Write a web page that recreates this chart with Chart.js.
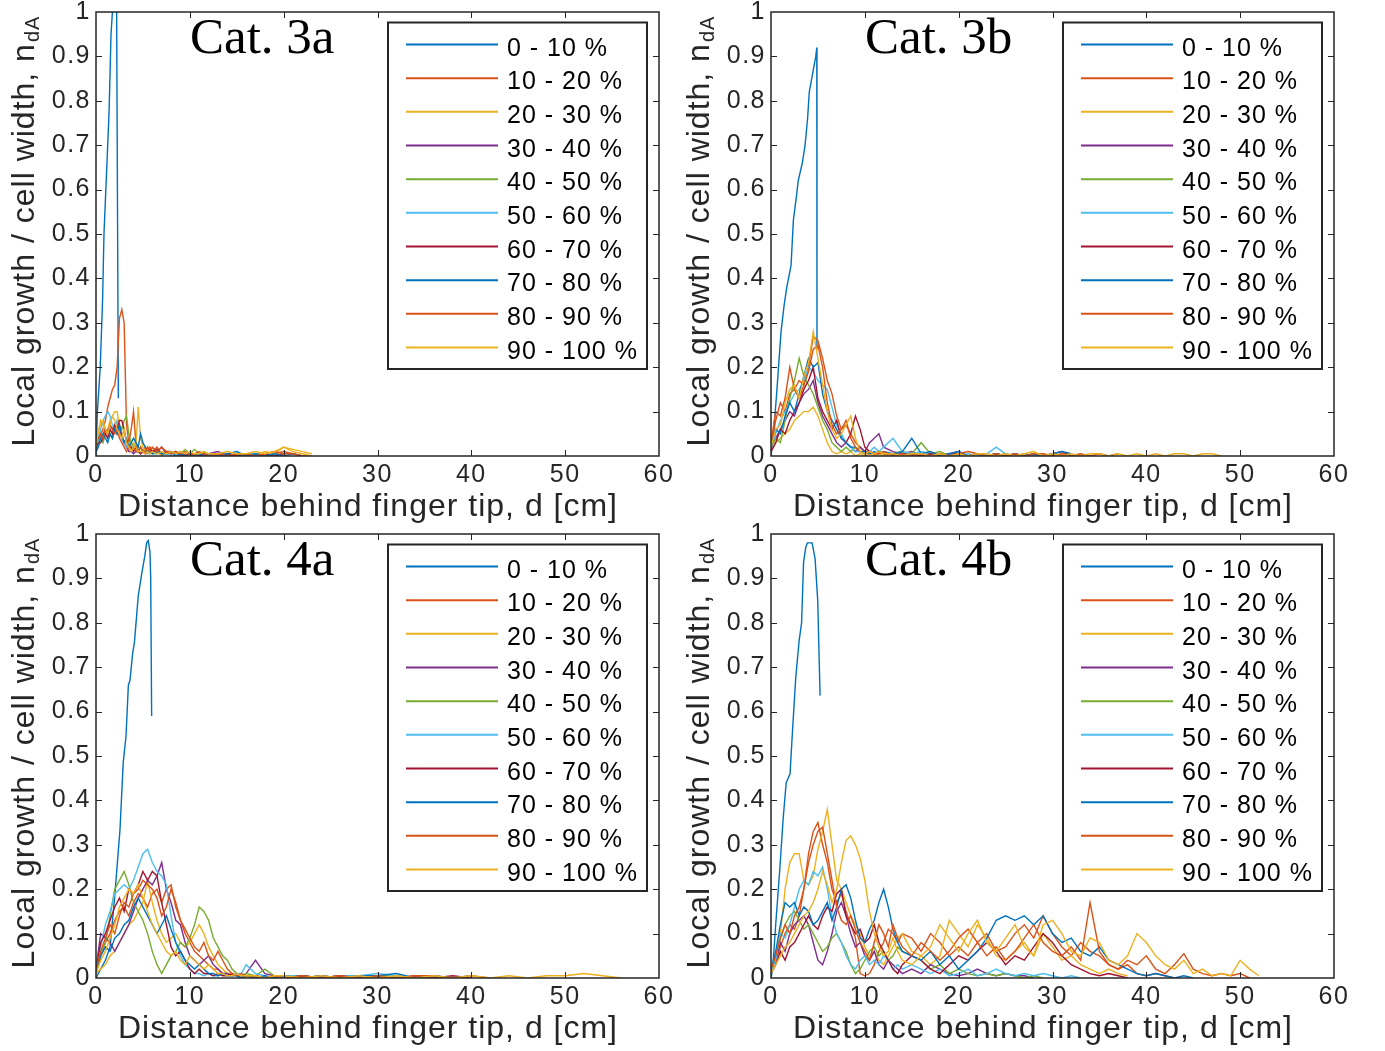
<!DOCTYPE html>
<html>
<head>
<meta charset="utf-8">
<script src="https://cdn.jsdelivr.net/npm/chart.js@4.4.1/dist/chart.umd.min.js"></script>
<style>
  body { margin: 0; background: #fff; width: 1385px; height: 1051px; overflow: hidden; }
  .panel { position: absolute; width: 692px; height: 525px; }
  .panel canvas { display: block; }
</style>
</head>
<body>
<div class="panel" style="left:0;top:0"><canvas id="c3a" width="692" height="525"></canvas></div>
<div class="panel" style="left:675px;top:0"><canvas id="c3b" width="692" height="525"></canvas></div>
<div class="panel" style="left:0;top:522px"><canvas id="c4a" width="692" height="525"></canvas></div>
<div class="panel" style="left:675px;top:522px"><canvas id="c4b" width="692" height="525"></canvas></div>
<script>
// legend entries and MATLAB default line colours
const RANGES = ['0 - 10 %', '10 - 20 %', '20 - 30 %', '30 - 40 %', '40 - 50 %',
                '50 - 60 %', '60 - 70 %', '70 - 80 %', '80 - 90 %', '90 - 100 %'];
const COLORS = ['#0072BD', '#D95319', '#EDB120', '#7E2F8E', '#77AC30',
                '#4DBEEE', '#A2142F', '#0072BD', '#D95319', '#EDB120'];
const X_TICKS = [0, 10, 20, 30, 40, 50, 60];
const X_TITLE = 'Distance behind finger tip, d [cm]';
const Y_TITLE = 'Local growth / cell width, n';
const Y_SUB = 'dA';

// ---- Cat. 3a ----
const x3a = [0,0.25,0.5,0.75,1,1.25,1.5,1.75,2,2.25,2.5,2.75,3,3.25,3.5,3.75,4,4.25,4.5,4.75,5,5.25,5.5,5.75,6,
  6.5,7,7.5,8,8.5,9,9.5,10,10.5,11,11.5,12,13,14,15,16,17,18,19,20,21,22,23];
const c3a_0x = [0,0.15,0.45,0.7,0.85,1.15,1.4,1.6,1.75,1.9,2.05,2.2,2.38];
const c3a_0y = [0,0.1,0.2,0.35,0.5,0.65,0.78,0.95,1,1.02,1.02,1,0.13];
const c3a_1 = [0.02,0.03,0.05,0.06,0.08,0.11,0.13,0.15,0.16,0.2,0.31,0.33,0.3,0.07,0.03,0.06,0.1,0.03,0.01,0.02,0.01,0.02,0.01,0.02,0.01,
  0.02,0.005,0.01,0.01,0.005,0.01,0,0.005,0.005,0,0.005,0, 0.005,0,0.005,0,0.005,0,0.005,0.01,0.005,0,0];
const c3a_2 = [0.01,0.05,0.08,0.07,0.05,0.06,0.08,0.09,0.1,0.1,0.07,0.04,0.03,0.02,0.03,0.02,0.03,0.02,0.11,0.04,0.02,0.01,0.02,0.01,0.01,
  0.01,0,0.01,0.005,0.01,0,0.005,0,0.005,0,0.01,0.005, 0,0.005,0,0.005,0,0.01,0.005,0.02,0.01,0.005,0];
const c3a_3 = [0.01,0.03,0.04,0.05,0.06,0.05,0.07,0.06,0.07,0.05,0.06,0.04,0.03,0.02,0.01,0.01,0.005,0.01,0.01,0.005,0.01,0.005,0.01,0.005,0.01,
  0.01,0.02,0.005,0.01,0.005,0.01,0,0.005,0,0.005,0,0.005, 0.01,0,0.005,0,0.005,0];
const c3a_4 = [0.02,0.03,0.04,0.03,0.05,0.06,0.05,0.04,0.06,0.05,0.07,0.06,0.08,0.09,0.05,0.03,0.02,0.02,0.01,0.02,0.01,0.01,0.005,0.01,0.005,
  0.01,0.005,0.01,0.005,0.01,0.005,0.015,0.005,0.015,0.005,0.01,0, 0.005,0,0.005,0,0.005];
const c3a_5 = [0.01,0.04,0.06,0.08,0.09,0.1,0.09,0.07,0.06,0.08,0.05,0.04,0.03,0.02,0.02,0.01,0.02,0.01,0.01,0.005,0.01,0.01,0.005,0.01,0.005,
  0.005,0.01,0.005,0,0.005,0.01,0,0.005,0,0.005,0,0.005, 0,0.005,0,0.005,0.005,0];
const c3a_6 = [0.02,0.03,0.03,0.04,0.05,0.04,0.06,0.05,0.07,0.06,0.08,0.08,0.06,0.03,0.02,0.02,0.01,0.02,0.01,0.005,0.01,0.005,0.01,0.015,0.01,
  0.015,0.005,0.01,0.005,0.01,0,0.005,0,0.005,0,0.005,0, 0,0.005,0,0.005,0,0.005,0,0.005];
const c3a_7 = [0.01,0.02,0.04,0.05,0.04,0.03,0.05,0.04,0.06,0.05,0.07,0.05,0.03,0.04,0.02,0.03,0.04,0.03,0.02,0.05,0.03,0.02,0.01,0.01,0.005,
  0.01,0.005,0.005,0.01,0,0.005,0,0.005,0,0.005,0,0.005, 0,0.005,0.01,0,0.005,0,0.005,0,0.005,0];
const c3a_8 = [0.03,0.04,0.05,0.04,0.06,0.05,0.07,0.06,0.05,0.06,0.04,0.03,0.02,0.01,0.02,0.01,0.02,0.01,0.01,0.02,0.01,0.01,0.02,0.01,0.02,
  0.01,0.02,0.01,0.005,0.01,0.005,0.01,0,0.005,0.01,0.005,0, 0.005,0,0.005,0.005,0,0.005,0.01,0.005,0.005,0];
const c3a_9 = [0.02,0.06,0.07,0.08,0.06,0.05,0.07,0.09,0.08,0.06,0.05,0.04,0.06,0.03,0.02,0.01,0.02,0.02,0.01,0.01,0.01,0.005,0.01,0.005,0.01,
  0.005,0.01,0.005,0.01,0.005,0.01,0.005,0.01,0.005,0.005,0.01,0.005, 0.005,0.01,0.005,0.005,0.01,0.005,0.01,0.02,0.015,0.01,0.005];

// ---- Cat. 3b ----
const x3b = [0,0.5,1,1.5,2,2.5,3,3.5,4,4.5,5,5.5,6,6.5,7,7.5,8,8.5,9,9.5,10,10.5,11,11.5,12,
  13,14,15,16,17,18,19,20,21,22,23,24,25,26,27,28,29,30,31,32,33,34,35,36,37,38,39,40,41,42,43,44,45,46,47,48];
const c3b_0x = [0,0.3,0.6,1.07,1.4,1.68,2.14,2.38,2.74,2.9,3.34,3.63,3.9,4.08,4.34,4.77,4.88,4.9];
const c3b_0y = [0,0.06,0.14,0.28,0.34,0.38,0.43,0.53,0.59,0.62,0.66,0.7,0.76,0.82,0.85,0.9,0.92,0.24];
const c3b_1 = [0.02,0.08,0.12,0.1,0.14,0.15,0.17,0.16,0.2,0.27,0.26,0.22,0.17,0.14,0.09,0.06,0.07,0.05,0.03,0.02,0.01,0.01,0.005,0.01,0.005,
  0.005,0.01,0,0.005,0,0.005,0,0.005,0,0.005,0,0,0.005,0,0.005,0];
const c3b_2 = [0.01,0.03,0.04,0.05,0.06,0.08,0.09,0.1,0.1,0.11,0.09,0.06,0.03,0.01,0.005,0.01,0.005,0.01,0,0.005,0,0.005,0,0.005,0,
  0.005,0,0.005,0,0.005,0,0,0.005,0,0.005,0,0.005,0,0,0.005,0,0.005,0,0.005,0,0.005];
const c3b_3 = [0.02,0.04,0.06,0.08,0.1,0.09,0.12,0.14,0.15,0.17,0.12,0.09,0.07,0.05,0.03,0.02,0.03,0.02,0.01,0.02,0.01,0.03,0.04,0.05,0.02,
  0.01,0.005,0.01,0,0.005,0,0.005,0.01,0,0.005,0,0.005,0];
const c3b_4 = [0.02,0.04,0.03,0.08,0.13,0.17,0.22,0.18,0.16,0.14,0.11,0.08,0.06,0.03,0.02,0.01,0.02,0.01,0.02,0.01,0.005,0.01,0.005,0.01,0.005,
  0.005,0.01,0.005,0.03,0.005,0.01,0,0.005,0,0.005,0,0.005];
const c3b_5 = [0.02,0.05,0.08,0.1,0.12,0.14,0.15,0.17,0.2,0.19,0.17,0.16,0.15,0.11,0.07,0.05,0.03,0.02,0.01,0.01,0.005,0.01,0.02,0.01,0.02,
  0.04,0.01,0.005,0.01,0.005,0,0.005,0,0.005,0,0.005,0.02,0.005,0,0.005,0,0.005];
const c3b_6 = [0.01,0.03,0.06,0.05,0.08,0.1,0.12,0.15,0.17,0.2,0.13,0.1,0.08,0.06,0.08,0.04,0.03,0.05,0.09,0.06,0.02,0.01,0.005,0.01,0.005,
  0.005,0,0.005,0,0.005,0,0.005,0.005,0,0.005,0,0.005,0,0.005,0,0.005,0,0.005,0.01,0];
const c3b_7 = [0.02,0.06,0.05,0.09,0.12,0.1,0.14,0.18,0.22,0.2,0.21,0.14,0.1,0.08,0.06,0.04,0.03,0.02,0.02,0.01,0.01,0.005,0.01,0.005,0.01,
  0.005,0.01,0.04,0.005,0.01,0,0.005,0.01,0,0.005,0,0.005,0,0.005,0,0.005,0,0.005,0.01,0.005];
const c3b_8 = [0.03,0.1,0.09,0.13,0.2,0.15,0.13,0.16,0.19,0.24,0.25,0.2,0.12,0.07,0.05,0.06,0.08,0.04,0.02,0.01,0.005,0.01,0.005,0.005,0.01,
  0,0.005,0,0.005,0,0.005,0,0.005,0.01,0.005,0,0.005,0,0.005,0,0.005,0.005,0,0.005,0,0.005,0,0.005,0,0.005];
const c3b_9 = [0.02,0.06,0.07,0.12,0.15,0.16,0.13,0.18,0.21,0.28,0.22,0.16,0.1,0.06,0.04,0.05,0.07,0.09,0.04,0.01,0.005,0.01,0.005,0.01,0.005,
  0.005,0,0.005,0.005,0,0.005,0,0.005,0,0.005,0.005,0,0.005,0,0.005,0.01,0,0.005,0,0.005,0,0.005,0.005,0,0.005,0,0.005,0,0.005,0,0.005,0.005,0,0.005,0.005,0];

// ---- Cat. 4a ----
const x4a = [0,0.5,1,1.5,2,2.5,3,3.5,4,4.5,5,5.5,6,6.5,7,7.5,8,8.5,9,9.5,10,10.5,11,11.5,12,12.5,13,13.5,14,14.5,15,15.5,16,
  17,18,19,20,22,24,26,28,30,32,34,36,38,40,42,44,46,48,50,52,54,56];
const c4a_0x = [0,0.5,1,1.5,2,2.56,2.9,3.2,3.45,3.62,3.9,4.1,4.5,4.87,5.2,5.4,5.57,5.75,5.83,5.93];
const c4a_0y = [0,0.02,0.04,0.07,0.185,0.335,0.485,0.545,0.66,0.67,0.73,0.757,0.86,0.91,0.95,0.98,0.985,0.96,0.9,0.59];
const c4a_1 = [0.01,0.05,0.08,0.1,0.13,0.15,0.16,0.14,0.17,0.19,0.18,0.16,0.19,0.2,0.17,0.2,0.21,0.16,0.13,0.1,0.08,0.06,0.05,0.04,0.03,0.02,0.02,0.01,0.01,0.005,0.01,0.005,0.005,
  0.005,0,0.005,0, 0.005,0,0.005,0];
const c4a_2 = [0.01,0.02,0.03,0.05,0.06,0.08,0.1,0.12,0.13,0.15,0.17,0.22,0.17,0.13,0.1,0.08,0.09,0.1,0.08,0.07,0.08,0.1,0.12,0.1,0.07,0.05,0.03,0.02,0.01,0.01,0.005,0.005,0,
  0.005,0,0.005,0.005, 0,0.005,0,0.005,0,0.005,0];
const c4a_3 = [0.02,0.1,0.09,0.08,0.06,0.08,0.1,0.12,0.15,0.18,0.2,0.22,0.21,0.23,0.26,0.2,0.17,0.13,0.12,0.08,0.05,0.04,0.03,0.04,0.05,0.03,0.02,0.01,0.01,0.005,0.01,0.005,0.01,
  0.04,0.01,0.005,0.005, 0,0.005,0,0.005,0];
const c4a_4 = [0.01,0.05,0.08,0.14,0.2,0.22,0.24,0.21,0.17,0.15,0.13,0.1,0.06,0.03,0.01,0.03,0.05,0.06,0.08,0.07,0.09,0.12,0.16,0.15,0.13,0.09,0.07,0.05,0.04,0.02,0.01,0.005,0.01,
  0.005,0.02,0.005,0, 0.005,0,0.005,0,0.005,0.005,0];
const c4a_5 = [0.03,0.07,0.12,0.15,0.19,0.2,0.21,0.2,0.22,0.25,0.28,0.29,0.26,0.24,0.23,0.21,0.14,0.08,0.05,0.03,0.02,0.01,0.01,0.005,0.01,0.005,0.005,0.01,0.005,0.005,0.01,0.01,0.03,
  0.01,0.005,0,0.005, 0.005,0,0.005,0.005,0.01,0.005,0,0.005,0];
const c4a_6 = [0.02,0.08,0.1,0.13,0.16,0.18,0.15,0.2,0.19,0.21,0.24,0.22,0.24,0.23,0.17,0.12,0.07,0.05,0.06,0.04,0.02,0.01,0.02,0.01,0.01,0.005,0.01,0.005,0.005,0.01,0.005,0,0.005,
  0.005,0,0.005,0, 0.005,0,0.005,0,0.005,0,0.005,0,0.005,0];
const c4a_7 = [0.01,0.05,0.07,0.06,0.09,0.1,0.12,0.13,0.16,0.18,0.16,0.14,0.12,0.1,0.12,0.14,0.11,0.08,0.06,0.04,0.03,0.02,0.03,0.02,0.01,0.01,0.005,0.01,0.005,0.005,0.005,0,0.005,
  0,0.005,0,0.005, 0,0.005,0,0.005,0.005,0.01,0,0.005,0,0.005];
const c4a_8 = [0.02,0.06,0.09,0.12,0.1,0.14,0.17,0.16,0.19,0.2,0.22,0.21,0.2,0.18,0.14,0.16,0.2,0.17,0.13,0.11,0.09,0.07,0.06,0.08,0.05,0.04,0.06,0.04,0.02,0.01,0.005,0.01,0.005,
  0.005,0,0.005,0, 0.005,0,0.005,0,0.005,0,0.005,0.005,0,0.005,0];
const c4a_9 = [0.01,0.04,0.06,0.09,0.12,0.16,0.18,0.2,0.19,0.21,0.18,0.15,0.12,0.1,0.08,0.06,0.05,0.06,0.04,0.03,0.05,0.04,0.03,0.02,0.03,0.02,0.01,0.01,0.005,0.005,0.01,0.005,0.005,
  0.005,0,0.005,0.005, 0,0.005,0,0.005,0,0.005,0,0.005,0,0.005,0,0.005,0,0.005,0.005,0.01,0.005,0];

// ---- Cat. 4b ----
const x4b = [0,0.5,1,1.5,2,2.5,3,3.5,4,4.5,5,5.5,6,6.5,7,7.5,8,8.5,9,9.5,10,10.5,11,11.5,12,12.5,13,13.5,14,
  15,16,17,18,19,20,21,22,23,24,25,26,27,28,29,30,31,32,33,34,35,36,37,38,39,40,41,42,43,44,45,46,47,48,49,50,51,52];
const c4b_0x = [0,0.18,0.5,0.92,1.3,1.62,2.03,2.3,2.65,3,3.26,3.47,3.7,3.88,4.38,4.7,4.98,5.23];
const c4b_0y = [0,0.02,0.12,0.24,0.36,0.44,0.46,0.56,0.68,0.76,0.8,0.936,0.97,0.98,0.98,0.944,0.85,0.636];
const c4b_1 = [0.01,0.04,0.07,0.1,0.12,0.11,0.14,0.2,0.28,0.33,0.35,0.3,0.26,0.2,0.17,0.19,0.15,0.12,0.09,0.01,0.005,0.01,0.03,0.06,0.08,0.11,0.1,0.08,0.1,
  0.09,0.06,0.1,0.08,0.05,0.07,0.05,0.08,0.1,0.06,0.07,0.1,0.12,0.09,0.14,0.1,0.07,0.05,0.08,0.06,0.05,0.03,0.02,0.03,0.01,0.005,0.01,0.005,0];
const c4b_2 = [0.01,0.05,0.1,0.2,0.26,0.28,0.28,0.22,0.21,0.23,0.29,0.33,0.38,0.3,0.22,0.2,0.17,0.14,0.12,0.1,0.07,0.05,0.06,0.04,0.03,0.05,0.07,0.09,0.1,
  0.06,0.05,0.03,0.05,0.13,0.1,0.07,0.12,0.09,0.05,0.04,0.06,0.08,0.05,0.1,0.07,0.04,0.05,0.03,0.02,0.01,0.02,0.01,0.005];
const c4b_3 = [0.01,0.04,0.08,0.06,0.1,0.12,0.13,0.14,0.12,0.08,0.04,0.03,0.06,0.1,0.15,0.17,0.14,0.1,0.07,0.08,0.05,0.04,0.06,0.03,0.02,0.04,0.03,0.02,0.01,
  0.02,0.01,0.03,0.02,0.01,0.005,0.01,0.02,0.01,0.005,0.01,0.005,0.005,0];
const c4b_4 = [0.01,0.05,0.09,0.12,0.14,0.15,0.13,0.11,0.12,0.1,0.08,0.06,0.07,0.09,0.1,0.08,0.06,0.03,0.01,0.02,0.04,0.06,0.07,0.05,0.06,0.04,0.05,0.07,0.06,
  0.05,0.04,0.02,0.03,0.01,0.02,0.01,0.005,0.01,0.005,0.01,0.005,0,0.005,0];
const c4b_5 = [0.01,0.04,0.1,0.09,0.12,0.16,0.2,0.22,0.21,0.24,0.23,0.25,0.2,0.14,0.1,0.08,0.05,0.03,0.02,0.04,0.05,0.03,0.04,0.03,0.05,0.04,0.02,0.03,0.02,
  0.03,0.02,0.01,0.02,0.005,0.01,0.02,0.005,0.01,0.02,0.01,0.005,0.01,0.005,0.01,0.005,0,0.005,0];
const c4b_6 = [0.01,0.03,0.06,0.04,0.07,0.08,0.1,0.12,0.14,0.12,0.11,0.14,0.16,0.15,0.19,0.2,0.14,0.12,0.1,0.11,0.08,0.09,0.12,0.08,0.06,0.04,0.02,0.01,0.03,
  0.05,0.04,0.02,0.01,0.03,0.05,0.04,0.06,0.08,0.06,0.03,0.05,0.04,0.07,0.1,0.08,0.05,0.03,0.02,0.01,0.005,0.01,0.005,0];
const c4b_7 = [0.02,0.06,0.12,0.17,0.16,0.17,0.14,0.16,0.15,0.12,0.13,0.15,0.17,0.13,0.16,0.2,0.21,0.18,0.13,0.09,0.08,0.11,0.13,0.17,0.2,0.16,0.11,0.08,0.06,
  0.05,0.04,0.06,0.03,0.05,0.02,0.04,0.06,0.09,0.13,0.14,0.13,0.14,0.12,0.14,0.1,0.08,0.09,0.06,0.05,0.07,0.04,0.03,0.02,0.01,0.005,0.01,0.005,0,0.005,0];
const c4b_8 = [0.02,0.05,0.09,0.12,0.1,0.14,0.16,0.2,0.26,0.3,0.33,0.34,0.28,0.22,0.16,0.13,0.12,0.14,0.11,0.08,0.06,0.04,0.08,0.12,0.1,0.07,0.12,0.09,0.07,
  0.05,0.08,0.06,0.04,0.06,0.09,0.11,0.08,0.05,0.07,0.04,0.06,0.09,0.12,0.08,0.06,0.05,0.07,0.04,0.17,0.06,0.03,0.02,0.04,0.03,0.05,0.02,0.01,0.03,0.055,0.02,0.01,0.005,0.01,0.005,0.01,0];
const c4b_9 = [0.01,0.03,0.05,0.07,0.08,0.1,0.12,0.14,0.15,0.17,0.2,0.24,0.21,0.17,0.2,0.26,0.31,0.32,0.3,0.27,0.22,0.15,0.1,0.07,0.05,0.06,0.09,0.06,0.04,
  0.03,0.05,0.07,0.12,0.09,0.06,0.1,0.13,0.08,0.06,0.09,0.12,0.07,0.05,0.12,0.13,0.1,0.06,0.05,0.09,0.08,0.04,0.03,0.05,0.1,0.08,0.05,0.03,0.02,0.04,0.01,0.02,0.005,0.01,0.005,0.04,0.02,0.005];

const SANS = '"Liberation Sans", Arial, sans-serif';
const AXIS_COLOR = '#262626';

function series(xs, ys) {
  return ys.map((v, i) => ({ x: xs[i], y: v }));
}

// MATLAB-like box, inward ticks, legend, labels and panel title
function matlabDecor(title) {
  return {
    id: 'matlabDecor',
    beforeDraw(chart) {
      chart.ctx.letterSpacing = '1.5px';
    },
    afterDraw(chart) {
      const { ctx, chartArea: a, scales: { x, y } } = chart;
      ctx.save();
      ctx.letterSpacing = '0px';

      // axes box + inward ticks on all sides
      ctx.strokeStyle = AXIS_COLOR;
      ctx.lineWidth = 1.5;
      ctx.strokeRect(a.left, a.top, a.right - a.left, a.bottom - a.top);
      ctx.beginPath();
      x.ticks.forEach(t => {
        if (t.value <= x.min || t.value >= x.max) return;
        const px = Math.round(x.getPixelForValue(t.value)) + 0.5;
        ctx.moveTo(px, a.bottom); ctx.lineTo(px, a.bottom - 6);
        ctx.moveTo(px, a.top); ctx.lineTo(px, a.top + 6);
      });
      y.ticks.forEach(t => {
        if (t.value <= y.min + 1e-9 || t.value >= y.max - 1e-9) return;
        const py = Math.round(y.getPixelForValue(t.value)) + 0.5;
        ctx.moveTo(a.left, py); ctx.lineTo(a.left + 6, py);
        ctx.moveTo(a.right, py); ctx.lineTo(a.right - 6, py);
      });
      ctx.lineWidth = 1;
      ctx.stroke();

      // legend box
      const bx = a.left + 292, by = a.top + 10.5, bw = 259, bh = 346.5;
      ctx.fillStyle = '#fff';
      ctx.fillRect(bx, by, bw, bh);
      ctx.strokeStyle = AXIS_COLOR;
      ctx.lineWidth = 2;
      ctx.strokeRect(bx, by, bw, bh);
      ctx.font = '25px ' + SANS;
      ctx.letterSpacing = '1px';
      ctx.textAlign = 'left';
      ctx.textBaseline = 'alphabetic';
      chart.data.datasets.forEach((ds, i) => {
        const ly = by + 22 + i * 33.67;
        ctx.strokeStyle = ds.borderColor;
        ctx.lineWidth = 2;
        ctx.beginPath();
        ctx.moveTo(bx + 18, ly);
        ctx.lineTo(bx + 110, ly);
        ctx.stroke();
        ctx.fillStyle = '#000';
        ctx.fillText(ds.label, bx + 119, ly + 11);
      });

      // panel title
      ctx.letterSpacing = '0px';
      ctx.fillStyle = '#000';
      ctx.font = '51px "Liberation Serif", "Times New Roman", serif';
      ctx.fillText(title, a.left + 94, a.top + 41);

      // x axis title
      ctx.fillStyle = AXIS_COLOR;
      ctx.font = '32px ' + SANS;
      ctx.letterSpacing = '1px';
      ctx.textAlign = 'center';
      ctx.fillText(X_TITLE, (a.left + a.right) / 2 - 9.5, a.bottom + 60);

      // y axis title with subscript
      ctx.textAlign = 'left';
      ctx.translate(a.left - 62, (a.top + a.bottom) / 2);
      ctx.rotate(-Math.PI / 2);
      ctx.font = '32px ' + SANS;
      const w1 = ctx.measureText(Y_TITLE).width;
      ctx.font = '20px ' + SANS;
      const w2 = ctx.measureText(Y_SUB).width;
      const sx = -(w1 + w2) / 2 + 2.5;
      ctx.font = '32px ' + SANS;
      ctx.fillText(Y_TITLE, sx, 0);
      ctx.font = '20px ' + SANS;
      ctx.fillText(Y_SUB, sx + w1 + 1, 5);
      ctx.restore();
    }
  };
}

function makePanel(id, title, grid, tipX, tipY, rest) {
  const lines = [series(tipX, tipY)].concat(rest.map(r => series(grid, r)));
  const datasets = lines.map((data, i) => ({
    label: RANGES[i],
    data,
    borderColor: COLORS[i],
    borderWidth: 1.4,
    pointRadius: 0,
    fill: false,
    tension: 0,
    order: 10 - i
  }));

  new Chart(document.getElementById(id), {
    type: 'line',
    data: { datasets },
    options: {
      responsive: false,
      animation: false,
      events: [],
      layout: { padding: { top: 12, right: 33, left: 0, bottom: 0 } },
      plugins: { legend: { display: false }, tooltip: { enabled: false } },
      scales: {
        x: {
          type: 'linear', min: 0, max: 60,
          afterBuildTicks: s => { s.ticks = X_TICKS.map(v => ({ value: v })); },
          ticks: { autoSkip: false, maxRotation: 0, padding: 4, color: AXIS_COLOR,
                   font: { family: SANS, size: 25 } },
          grid: { display: false, drawTicks: false },
          border: { display: false },
          afterFit: s => { s.height = 69; s.paddingLeft = 0; s.paddingRight = 0; }
        },
        y: {
          min: 0, max: 1,
          ticks: { stepSize: 0.1, autoSkip: false, padding: 5, color: AXIS_COLOR,
                   font: { family: SANS, size: 25 },
                   callback: v => String(Math.round(v * 10) / 10) },
          grid: { display: false, drawTicks: false },
          border: { display: false },
          afterFit: s => { s.width = 96; s.paddingTop = 0; s.paddingBottom = 0; }
        }
      }
    },
    plugins: [matlabDecor(title)]
  });
}

makePanel('c3a', 'Cat. 3a', x3a, c3a_0x, c3a_0y,
  [c3a_1, c3a_2, c3a_3, c3a_4, c3a_5, c3a_6, c3a_7, c3a_8, c3a_9]);
makePanel('c3b', 'Cat. 3b', x3b, c3b_0x, c3b_0y,
  [c3b_1, c3b_2, c3b_3, c3b_4, c3b_5, c3b_6, c3b_7, c3b_8, c3b_9]);
makePanel('c4a', 'Cat. 4a', x4a, c4a_0x, c4a_0y,
  [c4a_1, c4a_2, c4a_3, c4a_4, c4a_5, c4a_6, c4a_7, c4a_8, c4a_9]);
makePanel('c4b', 'Cat. 4b', x4b, c4b_0x, c4b_0y,
  [c4b_1, c4b_2, c4b_3, c4b_4, c4b_5, c4b_6, c4b_7, c4b_8, c4b_9]);
</script>
</body>
</html>
